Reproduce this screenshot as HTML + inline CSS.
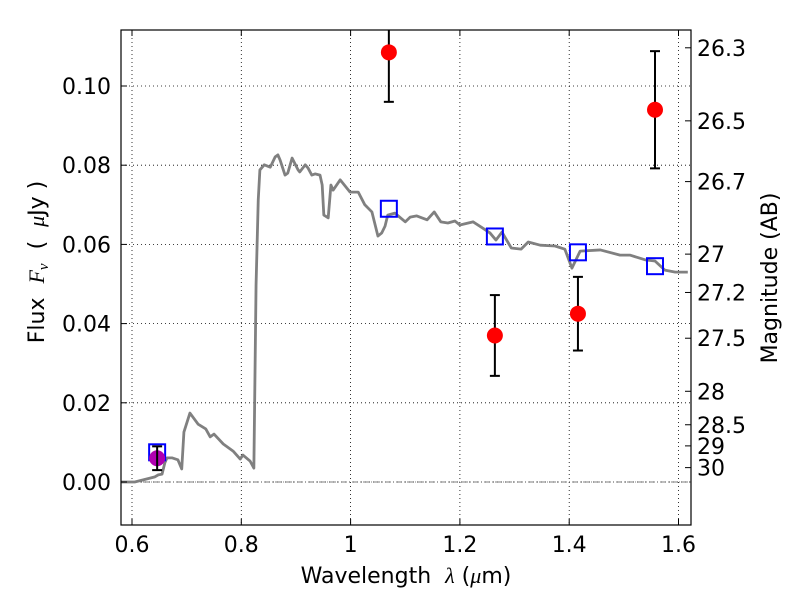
<!DOCTYPE html>
<html><head><meta charset="utf-8"><style>
body{margin:0;background:#fff;}
svg text{font-family:"DejaVu Sans","Liberation Sans",sans-serif;fill:#000;white-space:pre;}
</style></head><body>
<svg id="chart" width="800" height="600" xmlns="http://www.w3.org/2000/svg">
<defs><clipPath id="clip"><rect x="121" y="30" width="570" height="495"/></clipPath></defs>
<g id="grid"></g>
<g id="zero"></g>
<g id="series" clip-path="url(#clip)"></g>
<rect x="121" y="30" width="570" height="495" fill="none" stroke="#000" stroke-width="1.2"/>
<g id="axes"></g>
<text x="406" y="583" font-size="22" text-anchor="middle" xml:space="preserve">Wavelength  <tspan font-family="Liberation Serif" font-style="italic">λ</tspan> (<tspan font-family="Liberation Serif" font-style="italic">μ</tspan>m)</text>
<text transform="translate(44,262) rotate(-90)" font-size="22" text-anchor="middle" xml:space="preserve">Flux  <tspan font-family="Liberation Serif" font-style="italic">F</tspan><tspan font-family="Liberation Serif" font-style="italic" font-size="15" dy="4">ν</tspan><tspan dy="-4">  (  </tspan><tspan font-family="Liberation Serif" font-style="italic">μ</tspan>Jy )</text>
<text transform="translate(777,278) rotate(-90)" font-size="22" text-anchor="middle">Magnitude (AB)</text>
</svg>
<script>
const xTicks=[0.6,0.8,1.0,1.2,1.4,1.6];
const xTickLabels=["0.6","0.8","1","1.2","1.4","1.6"];
const yTicks=[0,0.02,0.04,0.06,0.08,0.10];
const yTickLabels=["0.00","0.02","0.04","0.06","0.08","0.10"];
const magTicks=[26.3,26.5,26.7,27,27.2,27.5,28,28.5,29,30];
const magTickLabels=["26.3","26.5","26.7","27","27.2","27.5","28","28.5","29","30"];
const sedLambda=[0.580,0.605,0.642,0.648,0.655,0.660,0.664,0.673,0.684,0.691,0.695,0.706,0.721,0.735,0.743,0.750,0.767,0.785,0.798,0.803,0.816,0.823,0.827,0.831,0.834,0.842,0.853,0.862,0.867,0.871,0.880,0.885,0.893,0.904,0.907,0.917,0.922,0.929,0.935,0.944,0.948,0.951,0.959,0.964,0.968,0.981,0.999,1.014,1.026,1.039,1.050,1.057,1.063,1.068,1.081,1.100,1.109,1.121,1.140,1.153,1.165,1.178,1.191,1.200,1.224,1.242,1.255,1.266,1.277,1.294,1.312,1.325,1.347,1.374,1.392,1.405,1.420,1.457,1.493,1.511,1.539,1.557,1.575,1.594,1.617];
const sedFlux=[0,0,0.0013,0.0018,0.002,0.0048,0.0061,0.0061,0.0056,0.0033,0.0126,0.0174,0.0146,0.0134,0.0114,0.0121,0.0096,0.0078,0.0058,0.0068,0.0053,0.0035,0.0497,0.0712,0.0788,0.0801,0.0795,0.0821,0.0826,0.0813,0.0775,0.078,0.0818,0.0788,0.0783,0.0801,0.0793,0.0775,0.0778,0.0775,0.075,0.0674,0.0667,0.075,0.0737,0.0763,0.0732,0.0732,0.07,0.0682,0.0621,0.0629,0.0646,0.0674,0.0679,0.0657,0.0669,0.0672,0.0662,0.0682,0.0657,0.0654,0.0659,0.0649,0.0657,0.0641,0.0629,0.0611,0.0631,0.0591,0.0588,0.0606,0.0598,0.0596,0.0588,0.054,0.0583,0.0586,0.0573,0.0573,0.0561,0.0558,0.0535,0.053,0.053];
const obsLambda=[1.07,1.264,1.416,1.557];
const obsFlux=[0.1085,0.037,0.0425,0.094];
const obsErr=[0.0125,0.0102,0.0093,0.0148];
const hstLambda=[0.646];
const hstFlux=[0.006];
const hstErr=[0.003];
const modelLambda=[0.646,1.07,1.264,1.416,1.557];
const modelFlux=[0.0075,0.069,0.062,0.058,0.0545];

const X=v=>132+(v-0.6)*546.5;
const Y=v=>482-v*3960;
const NS="http://www.w3.org/2000/svg";
function mk(tag,parent,attrs){const e=document.createElementNS(NS,tag);for(const k in attrs)e.setAttribute(k,attrs[k]);parent.appendChild(e);return e;}
const grid=document.getElementById('grid'),axes=document.getElementById('axes'),ser=document.getElementById('series');
xTicks.forEach((t,i)=>{
 const g=mk('line',grid,{x1:X(t),x2:X(t),y1:30,y2:525,stroke:'#000','stroke-width':0.8,'stroke-dasharray':'1,3'});
 
 
 mk('line',axes,{x1:X(t),x2:X(t),y1:525,y2:519,stroke:'#000'});
 mk('line',axes,{x1:X(t),x2:X(t),y1:30,y2:36,stroke:'#000'});
 const l=mk('text',axes,{x:X(t),y:552,'font-size':22,'text-anchor':'middle'});l.textContent=xTickLabels[i];
 
 
});
yTicks.forEach((t,i)=>{
 const g=mk('line',grid,{x1:121,x2:691,y1:Y(t),y2:Y(t),stroke:'#000','stroke-width':0.8,'stroke-dasharray':'1,3'});
 
 
 mk('line',axes,{x1:121,x2:127,y1:Y(t),y2:Y(t),stroke:'#000'});
 const l=mk('text',axes,{x:111,y:Y(t)+8,'font-size':22,'text-anchor':'end'});l.textContent=yTickLabels[i];
 
 
});
magTicks.forEach((m,i)=>{
 const f=Math.pow(10,(23.9-m)/2.5);const y=Y(f);
 mk('line',axes,{x1:691,x2:685,y1:y,y2:y,stroke:'#000'});
 const l=mk('text',axes,{x:697,y:y+8,'font-size':22});l.textContent=magTickLabels[i];
 
 
});
mk('line',document.getElementById('zero'),{x1:121,x2:691,y1:Y(0),y2:Y(0),stroke:'#555','stroke-width':0.8,'stroke-dasharray':'6,2,1,2'});
const sed=mk('polyline',ser,{points:sedLambda.map((l,i)=>X(l)+','+Y(sedFlux[i])).join(' '),fill:'none',stroke:'#808080','stroke-width':2.8,'stroke-linejoin':'round'});


function errbar(x,f,e){
 mk('line',ser,{x1:X(x),x2:X(x),y1:Y(f-e),y2:Y(f+e),stroke:'#000','stroke-width':2});
 mk('line',ser,{x1:X(x)-5,x2:X(x)+5,y1:Y(f-e),y2:Y(f-e),stroke:'#000','stroke-width':2});
 mk('line',ser,{x1:X(x)-5,x2:X(x)+5,y1:Y(f+e),y2:Y(f+e),stroke:'#000','stroke-width':2});
}
modelLambda.forEach((l,i)=>{
 const r=mk('rect',ser,{x:X(l)-8,y:Y(modelFlux[i])-8,width:16,height:16,fill:'none',stroke:'#0000ff','stroke-width':2});
 
 
});
hstLambda.forEach((l,i)=>{
 const c=mk('circle',ser,{cx:X(l),cy:Y(hstFlux[i]),r:8,fill:'#b000b0'});
 
 
 errbar(l,hstFlux[i],hstErr[i]);
});
obsLambda.forEach((l,i)=>{
 errbar(l,obsFlux[i],obsErr[i]);
 const c=mk('circle',ser,{cx:X(l),cy:Y(obsFlux[i]),r:8,fill:'#ff0000'});
 
 
});
</script>
</body></html>
